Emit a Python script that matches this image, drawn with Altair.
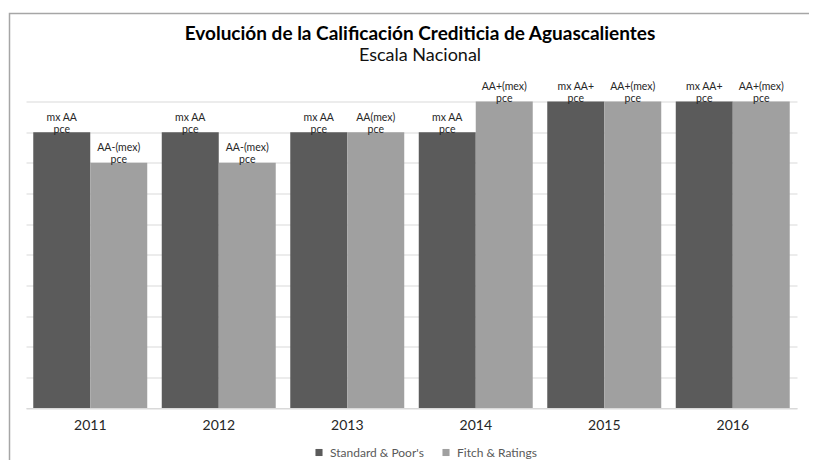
import altair as alt
import pandas as pd

title_text = "Evolución de la Calificación Crediticia de Aguascalientes"
subtitle_text = "Escala Nacional"
years = ["2011", "2012", "2013", "2014", "2015", "2016"]
series = ["Standard & Poor's", "Fitch & Ratings"]
sp_values = [9, 9, 9, 9, 10, 10]
fitch_values = [8, 8, 9, 10, 10, 10]
sp_ratings = ["mx AA", "mx AA", "mx AA", "mx AA", "mx AA+", "mx AA+"]
fitch_ratings = ["AA-(mex)", "AA-(mex)", "AA(mex)", "AA+(mex)", "AA+(mex)", "AA+(mex)"]
label_suffix = "pce"
colors = ["#5b5b5b", "#a0a0a0"]

rows = []
for i, y in enumerate(years):
    rows.append({"year": y, "series": series[0], "value": sp_values[i],
                 "label": sp_ratings[i] + "\n" + label_suffix})
    rows.append({"year": y, "series": series[1], "value": fitch_values[i],
                 "label": fitch_ratings[i] + "\n" + label_suffix})
df = pd.DataFrame(rows)

FONT = "Lato"

x_enc = alt.X("year:N", sort=years,
              scale=alt.Scale(paddingInner=0.113, paddingOuter=0.0565),
              axis=alt.Axis(title=None, labelAngle=0, ticks=False, labelPadding=10,
                            labelFontSize=14, labelFont=FONT, labelColor="#262626",
                            domainColor="#d9d9d9", labelFontWeight="normal"))
xo_enc = alt.XOffset("series:N", sort=series, scale=alt.Scale(paddingInner=0, paddingOuter=0))
y_enc = alt.Y("value:Q", scale=alt.Scale(domain=[0, 10], nice=False),
              axis=alt.Axis(title=None, labels=False, ticks=False, domain=False,
                            values=list(range(0, 11)), gridColor="#d9d9d9"))

bars = alt.Chart(df).mark_bar().encode(
    x=x_enc, xOffset=xo_enc, y=y_enc,
    color=alt.Color("series:N", sort=series,
                    scale=alt.Scale(domain=series, range=colors),
                    legend=alt.Legend(title=None, orient="none", legendX=287, legendY=345,
                                      direction="horizontal", symbolType="square",
                                      symbolSize=50, labelFontSize=12, labelFont=FONT,
                                      labelColor="#595959", columnPadding=16,
                                      labelOffset=5, symbolStrokeWidth=0)),
)

labels = alt.Chart(df).mark_text(baseline="bottom", lineBreak="\n", dy=-9.5, fontSize=10.5,
                                 font=FONT, color="#262626", lineHeight=12).encode(
    x=x_enc, xOffset=xo_enc, y=y_enc, text="label:N"
)

one = pd.DataFrame({"a": [0]})

frame = alt.Chart(one).mark_rect(
    fill=None, stroke="#a6a6a6", strokeWidth=1.5
).encode(x=alt.value(-16.5), x2=alt.value(820), y=alt.value(-88), y2=alt.value(400))

title_mark = alt.Chart(one).mark_text(
    font=FONT, fontSize=19, fontWeight="bold", color="#000000",
    align="center", baseline="alphabetic"
).encode(x=alt.value(394), y=alt.value(-61.5), text=alt.value(title_text))

subtitle_mark = alt.Chart(one).mark_text(
    font=FONT, fontSize=18, color="#111111", align="center", baseline="alphabetic"
).encode(x=alt.value(394), y=alt.value(-40.8), text=alt.value(subtitle_text))

chart = alt.layer(frame, bars, labels, title_mark, subtitle_mark).properties(
    width=771, height=306.5,
    autosize=alt.AutoSizeParams(type="none"),
    padding={"left": 18, "top": 93.5, "right": 12, "bottom": 52},
).configure_view(stroke=None)

chart.save("out.html", embed_options={"renderer": "svg", "actions": False})
